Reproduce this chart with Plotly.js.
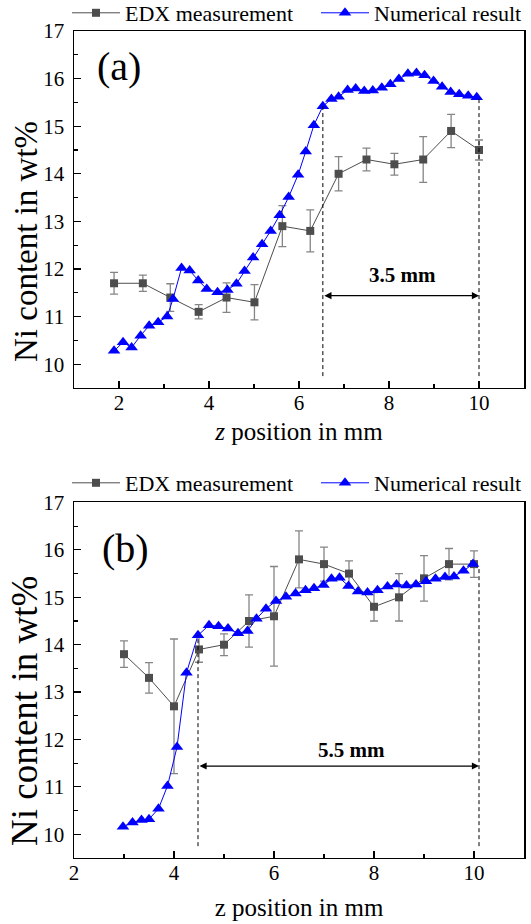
<!DOCTYPE html>
<html>
<head>
<meta charset="utf-8">
<script src="https://cdn.plot.ly/plotly-3.0.1.min.js"></script>
<style>html,body{margin:0;padding:0;background:#fff;}</style>
</head>
<body>
<div id="chart" style="width:531px;height:924px;"></div>
<script>
// ---- Panel (a) data ----
const edxA_x   = [1.89, 2.53, 3.14, 3.77, 4.39, 5.01, 5.63, 6.25, 6.88, 7.50, 8.12, 8.76, 9.38, 10.0];
const edxA_y   = [11.7, 11.7, 11.4, 11.1, 11.4, 11.3, 12.9, 12.8, 14.0, 14.3, 14.2, 14.3, 14.9, 14.5];
const edxA_err = [0.23, 0.17, 0.29, 0.15, 0.31, 0.37, 0.43, 0.44, 0.36, 0.24, 0.23, 0.48, 0.35, 0.21];
const numA_x = [1.89, 2.09, 2.28, 2.48, 2.67, 2.87, 3.07, 3.20, 3.39, 3.57, 3.76, 3.95, 4.19, 4.41, 4.61,
                4.79, 4.98, 5.18, 5.37, 5.57, 5.77, 5.98, 6.15, 6.33, 6.53, 6.72, 6.88, 7.08, 7.26, 7.45,
                7.64, 7.84, 8.03, 8.22, 8.42, 8.61, 8.79, 8.99, 9.18, 9.37, 9.56, 9.76, 9.95];
const numA_y = [10.28, 10.46, 10.35, 10.60, 10.81, 10.88, 11.00, 11.37, 12.02, 11.97, 11.76, 11.58, 11.51, 11.56, 11.69,
                11.96, 12.24, 12.52, 12.80, 13.13, 13.51, 13.98, 14.47, 15.02, 15.42, 15.57, 15.62, 15.76, 15.79, 15.74,
                15.75, 15.81, 15.88, 15.99, 16.10, 16.12, 16.07, 15.95, 15.83, 15.72, 15.67, 15.64, 15.61];

// ---- Panel (b) data ----
const edxB_x   = [3.0, 3.5, 4.0, 4.5, 5.0, 5.5, 6.0, 6.5, 7.0, 7.5, 8.0, 8.5, 9.0, 9.5, 10.0];
const edxB_y   = [13.8, 13.3, 12.7, 13.9, 14.0, 14.5, 14.6, 15.8, 15.7, 15.5, 14.8, 15.0, 15.4, 15.7, 15.7];
const edxB_err = [0.28, 0.32, 1.42, 0.27, 0.23, 0.55, 1.05, 0.60, 0.36, 0.27, 0.30, 0.50, 0.48, 0.33, 0.28];
const numB_x = [2.98, 3.17, 3.35, 3.50, 3.69, 3.87, 4.06, 4.25, 4.48, 4.70, 4.89, 5.08, 5.28, 5.47, 5.65,
                5.84, 6.04, 6.24, 6.43, 6.63, 6.80, 6.99, 7.15, 7.31, 7.49, 7.68, 7.87, 8.07, 8.27, 8.45,
                8.65, 8.84, 9.04, 9.23, 9.42, 9.60, 9.79, 9.98];
const numB_y = [10.16, 10.25, 10.30, 10.32, 10.54, 11.02, 11.84, 13.41, 14.20, 14.41, 14.39, 14.34, 14.24, 14.29, 14.55,
                14.76, 14.92, 15.01, 15.08, 15.15, 15.19, 15.26, 15.39, 15.41, 15.24, 15.12, 15.10, 15.15, 15.23, 15.27,
                15.25, 15.27, 15.34, 15.39, 15.43, 15.44, 15.56, 15.70];

// ---- Annotation values ----
const xTickVals = [2, 4, 6, 8, 10];
const panelLabels = ['(a)', '(b)'];
const spanLabels = ['3.5 mm', '5.5 mm'];
const spanA = [6.53, 10.0];   // start/end of marked region (a)
const spanB = [4.48, 10.1];   // start/end of marked region (b)
const spanTopA = [15.42, 15.6];
const spanTopB = [14.2, 15.63];
const arrowY = 11.44;
const seriesNames = ['EDX measurement', 'Numerical result'];

const FONT = 'Liberation Serif, Times New Roman, serif';
const grayLine = '#4d4d4d';
const errColor = '#858585';

function edxTrace(x, y, e, xa, ya, leg) {
  return {x, y, type: 'scatter', mode: 'lines+markers', name: seriesNames[0],
    xaxis: xa, yaxis: ya, legend: leg,
    line: {color: grayLine, width: 1},
    marker: {symbol: 'square', size: 8, color: grayLine},
    error_y: {type: 'data', array: e, visible: true, color: errColor, thickness: 1.3, width: 4}};
}
function numTrace(x, y, xa, ya, leg) {
  return {x, y, type: 'scatter', mode: 'lines+markers', name: seriesNames[1],
    xaxis: xa, yaxis: ya, legend: leg,
    line: {color: '#0000ff', width: 1},
    marker: {symbol: 'triangle-up', size: 11, color: '#0000ff'}};
}

const data = [
  edxTrace(edxA_x, edxA_y, edxA_err, 'x', 'y', 'legend'),
  numTrace(numA_x, numA_y, 'x', 'y', 'legend3'),
  edxTrace(edxB_x, edxB_y, edxB_err, 'x2', 'y2', 'legend2'),
  numTrace(numB_x, numB_y, 'x2', 'y2', 'legend4')
];

function xAxis(range, anchor, title, standoff) {
  return {range, anchor, tickvals: xTickVals, ticks: 'inside', ticklen: 7, tickwidth: 1.2, tickcolor: '#000',
    minor: {dtick: 1, ticks: 'inside', ticklen: 4, tickwidth: 1.2, tickcolor: '#000'},
    showline: true, linewidth: 1.5, linecolor: '#000', mirror: true,
    showgrid: false, zeroline: false, tickfont: {size: 21, family: FONT}, ticklabelstandoff: -5,
    title: {text: title, font: {size: 25, family: FONT}, standoff: standoff}, automargin: false};
}
function yAxis(domain, anchor) {
  return {domain, anchor, range: [9.5, 17], dtick: 1, tick0: 0, ticks: 'inside', ticklen: 7, tickwidth: 1.2, tickcolor: '#000',
    minor: {dtick: 0.5, ticks: 'inside', ticklen: 4, tickwidth: 1.2, tickcolor: '#000'},
    showline: true, linewidth: 1.5, linecolor: '#000', mirror: true,
    showgrid: false, zeroline: false, tickfont: {size: 21, family: FONT}, ticklabelstandoff: 4, automargin: false};
}

function vline(xr, yr, x, ytop) {
  return {type: 'line', xref: xr, yref: yr, x0: x, x1: x, y0: 9.75, y1: ytop,
    line: {color: '#000', width: 1, dash: '4px,3px'}};
}
function arrow(xr, yr, x0, x1) {
  return {xref: xr, yref: yr, axref: xr, ayref: yr, x: x1, y: arrowY, ax: x0, ay: arrowY, text: '',
    showarrow: true, arrowside: 'end+start', arrowhead: 2, startarrowhead: 2, arrowsize: 1.1, startarrowsize: 1.1,
    arrowwidth: 1.3, arrowcolor: '#000', standoff: 0, startstandoff: 0};
}
function legendAt(px, py) {
  return {orientation: 'h', x: (px - 74) / 450, xanchor: 'left', y: 1 - py / 924, yanchor: 'top',
    font: {size: 22, family: FONT}, bgcolor: 'rgba(0,0,0,0)', itemwidth: 48};
}

const layout = {
  width: 531, height: 924,
  margin: {l: 74, r: 7, t: 0, b: 0, autoexpand: false},
  paper_bgcolor: '#fff', plot_bgcolor: '#fff',
  font: {family: FONT, size: 22, color: '#000'},
  showlegend: true,
  xaxis: xAxis([1, 11], 'y', '<i>z</i> position in mm', 9),
  yaxis: yAxis([0.5801, 0.96645], 'x'),
  xaxis2: xAxis([2, 11], 'y2', 'z position in mm', 15),
  yaxis2: yAxis([0.07143, 0.45617], 'x2'),
  legend: legendAt(67, -8),
  legend3: legendAt(316, -8),
  legend2: legendAt(67, 462),
  legend4: legendAt(316, 462),
  shapes: [
    vline('x', 'y', spanA[0], spanTopA[0]), vline('x', 'y', spanA[1], spanTopA[1]),
    vline('x2', 'y2', spanB[0], spanTopB[0]), vline('x2', 'y2', spanB[1], spanTopB[1])
  ],
  annotations: [
    arrow('x', 'y', spanA[0], spanA[1]),
    arrow('x2', 'y2', spanB[0], spanB[1]),
    {xref: 'x', yref: 'y', x: 8.30, y: 11.88, text: '<b>' + spanLabels[0] + '</b>', showarrow: false,
      font: {size: 21, family: FONT}},
    {xref: 'x2', yref: 'y2', x: 7.54, y: 11.78, text: '<b>' + spanLabels[1] + '</b>', showarrow: false,
      font: {size: 21, family: FONT}},
    {xref: 'x', yref: 'y', x: 2.0, y: 16.25, text: panelLabels[0], showarrow: false, font: {size: 40, family: FONT}},
    {xref: 'x2', yref: 'y2', x: 3.03, y: 16.03, text: panelLabels[1], showarrow: false, font: {size: 40, family: FONT}},
    {xref: 'paper', yref: 'paper', x: (26 - 74) / 450, y: 1 - 242 / 924, xanchor: 'center', yanchor: 'middle',
      text: 'Ni content in wt%', textangle: -90, showarrow: false, font: {size: 33, family: FONT}},
    {xref: 'paper', yref: 'paper', x: (24 - 74) / 450, y: 1 - 711 / 924, xanchor: 'center', yanchor: 'middle',
      text: 'Ni content in wt%', textangle: -90, showarrow: false, font: {size: 37, family: FONT}}
  ]
};

Plotly.newPlot('chart', data, layout, {displayModeBar: false, staticPlot: true});
</script>
</body>
</html>
